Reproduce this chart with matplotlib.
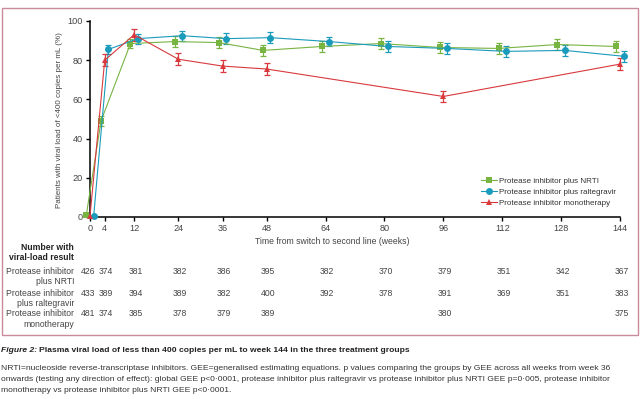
import matplotlib.pyplot as plt
from matplotlib.patches import Rectangle
import matplotlib.transforms as mtransforms

plt.rcParams['font.family'] = ['Liberation Sans Narrow', 'Liberation Sans', 'DejaVu Sans']

weeks = [0, 4, 12, 24, 36, 48, 64, 80, 96, 112, 128, 144]
mono_weeks = [0, 4, 12, 24, 36, 48, 96, 144]

nrti = [1, 49, 88.5, 89.5, 89, 85, 87, 88.5, 86.5, 86, 88, 87]
nrti_err = [0, 2.5, 2.5, 2.8, 2.8, 3, 2.8, 2.8, 3, 2.8, 3, 2.8]
ralt = [0.5, 85.5, 91, 92.5, 91, 91.5, 89.5, 87, 86, 84.5, 85, 82]
ralt_err = [0, 2.5, 2.5, 2.5, 2.8, 2.8, 2.5, 2.8, 2.8, 2.8, 2.8, 2.8]
mono = [0.5, 80, 93, 80.5, 77, 75.5, 61.5, 78]
mono_err = [0, 3, 3, 3, 3, 3, 3, 3]

labels = ['Protease inhibitor plus NRTI', 'Protease inhibitor plus raltegravir',
          'Protease inhibitor monotherapy']
row_labels = ['Protease inhibitor\nplus NRTI', 'Protease inhibitor\nplus raltegravir',
              'Protease inhibitor\nmonotherapy']
n_nrti = [426, 374, 381, 382, 386, 395, 382, 370, 379, 351, 342, 367]
n_ralt = [433, 389, 394, 389, 382, 400, 392, 378, 391, 369, 351, 383]
n_mono = [481, 374, 385, 378, 379, 389, 380, 375]

green = '#78b441'
blue = '#1b9bbb'
red = '#d8393d'
W, H = 640, 399

fig = plt.figure(figsize=(6.4, 3.99), dpi=100)
ax = fig.add_axes([90 / W, 1 - 217 / H, 530 / W, 196 / H])


def fy(y):
    return 1 - y / H


series = [
    (weeks, nrti, nrti_err, green, 's', -1.0),
    (weeks, ralt, ralt_err, blue, 'o', 1.0),
    (mono_weeks, mono, mono_err, red, '^', 0.0),
]
handles = []
for (wk, vals, err, col, mk, off), lab in zip(series, labels):
    xs = [w + off for w in wk]
    ax.errorbar(xs, vals, yerr=err, fmt='none', ecolor=col, elinewidth=0.9,
                capsize=2, capthick=0.9, clip_on=False, zorder=3)
    h, = ax.plot(xs, vals, color=col, lw=0.8, marker=mk, markersize=5,
                 markeredgewidth=0, clip_on=False, zorder=4, label=lab)
    handles.append(h)

ax.set_xlim(0, 144)
ax.set_ylim(0, 100)
ax.set_xticks(weeks)
ax.set_yticks([0, 20, 40, 60, 80, 100])
for s in ['top', 'right']:
    ax.spines[s].set_visible(False)
for s in ['left', 'bottom']:
    ax.spines[s].set_linewidth(1.1)
ax.tick_params(direction='out', length=3, width=1, labelsize=6.6,
               labelcolor='#444444', pad=2)

ax.legend(handles, labels, loc='lower right', bbox_to_anchor=(1.0, 0.03),
          frameon=False, fontsize=5.8, handlelength=1.9, handletextpad=0.3,
          labelspacing=0.45, borderpad=0, labelcolor='#333333')

fig.text(60 / W, fy(120), 'Patients with viral load of <400 copies per mL (%)',
         rotation=90, ha='center', va='center', fontsize=5.8, color='#444444')
fig.text(332 / W, fy(242), 'Time from switch to second line (weeks)',
         ha='center', va='center', fontsize=6.2, color='#444444')

# number-at-risk table, columns follow the axis weeks
trans = mtransforms.blended_transform_factory(ax.transData, fig.transFigure)
fig.text(74 / W, fy(247), 'Number with', ha='right', va='center',
         fontsize=6.2, fontweight='bold', color='#222222')
fig.text(74 / W, fy(258), 'viral-load result', ha='right', va='center',
         fontsize=6.2, fontweight='bold', color='#222222')
row_y = [271, 293, 314]
for lab, yy in zip(row_labels, row_y):
    first, second = lab.split('\n')
    fig.text(74 / W, fy(yy), first, ha='right', va='center', fontsize=6.2,
             color='#444444')
    fig.text(74 / W, fy(yy + 10.5), second, ha='right', va='center',
             fontsize=6.2, color='#444444')
for wk, nums, yy in [(weeks, n_nrti, row_y[0]), (weeks, n_ralt, row_y[1]),
                     (mono_weeks, n_mono, row_y[2])]:
    for w, n in zip(wk, nums):
        shift = -0.5 if w == 0 else 0.4
        ax.text(w + shift, fy(yy), str(n), transform=trans, ha='center',
                va='center', fontsize=6.2, color='#444444')

fig.patches.append(Rectangle((2 / W, fy(335)), 636 / W, 327 / H,
                             transform=fig.transFigure, fill=False,
                             edgecolor='#c98a9b', lw=1.0))

# caption
t1 = fig.text(1 / W, fy(351), 'Figure 2:', ha='left', va='center', fontsize=6.1,
              fontweight='bold', fontstyle='italic', color='#222222')
fig.canvas.draw()
bb = t1.get_window_extent(fig.canvas.get_renderer())
fig.text((bb.x1 + 2) / W, fy(351),
         'Plasma viral load of less than 400 copies per mL to week 144 in the three treatment groups',
         ha='left', va='center', fontsize=6.1, fontweight='bold', color='#222222')
caption = [
    'NRTI=nucleoside reverse-transcriptase inhibitors. GEE=generalised estimating equations. '
    'p values comparing the groups by GEE across all weeks from week 36',
    'onwards (testing any direction of effect): global GEE p<0\u00b70001, protease inhibitor plus '
    'raltegravir vs protease inhibitor plus NRTI GEE p=0\u00b7005, protease inhibitor',
    'monotherapy vs protease inhibitor plus NRTI GEE p<0\u00b70001.',
]
for i, line in enumerate(caption):
    fig.text(1 / W, fy(368 + 11.5 * i), line, ha='left', va='center',
             fontsize=6.1, color='#333333')

fig.savefig('out.png', dpi=100)
